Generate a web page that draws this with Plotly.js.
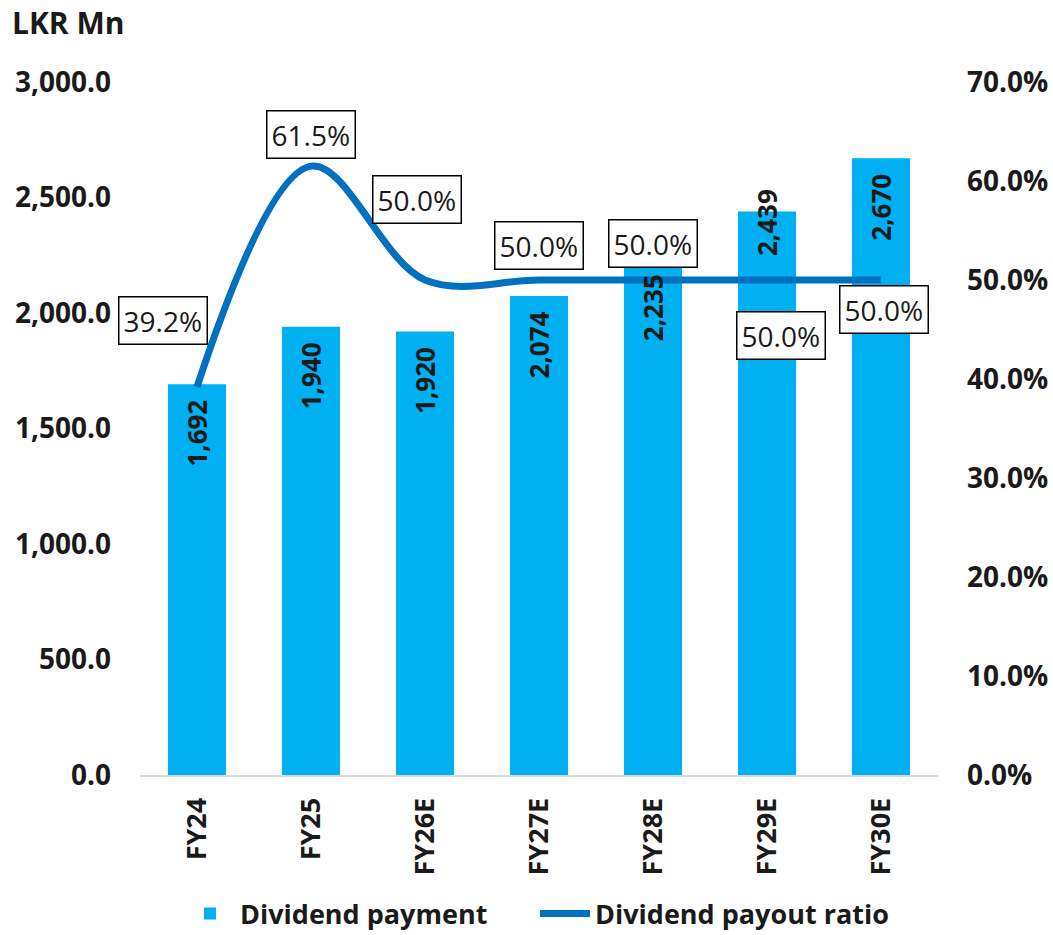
<!DOCTYPE html>
<html>
<head>
<meta charset="utf-8">
<script src="https://cdn.plot.ly/plotly-3.0.1.min.js"></script>
<style>html,body{margin:0;padding:0;background:#fff;}#chart{width:1053px;height:935px;}</style>
</head>
<body>
<div id="chart"></div>
<script>
const categories = ['FY24', 'FY25', 'FY26E', 'FY27E', 'FY28E', 'FY29E', 'FY30E'];
const dividendPayment = [1692, 1940, 1920, 2074, 2235, 2439, 2670];
const payoutRatio = [0.392, 0.615, 0.500, 0.500, 0.500, 0.500, 0.500];
const leftTicks = [0, 500, 1000, 1500, 2000, 2500, 3000];
const rightTicks = [0, 0.1, 0.2, 0.3, 0.4, 0.5, 0.6, 0.7];

// label placement offsets (px), kept apart from the data
const ratioLabelShift = [[-34, 66], [0, 32], [-8, 81], [0, 35], [0, 37], [14, -55], [3, -29]];
const paymentLabelShift = [-14, -14, -14, -14, -14, 24, -14];

const FONT = 'Open Sans, Noto Sans, DejaVu Sans, sans-serif';
const fmtNum = v => v.toLocaleString('en-US', {maximumFractionDigits: 0});
const fmtPct = v => (v * 100).toFixed(1) + '%';

const bars = {
  type: 'bar', name: 'Dividend payment', x: categories, y: dividendPayment,
  marker: {color: '#00B0F0'}, yaxis: 'y', hoverinfo: 'x+y'
};
const line = {
  type: 'scatter', mode: 'lines', name: 'Dividend payout ratio', x: categories, y: payoutRatio,
  yaxis: 'y2', line: {color: '#0070C0', width: 7, shape: 'spline', smoothing: 1}
};

const annotations = [];
categories.forEach((c, i) => {
  annotations.push({
    x: c, y: dividendPayment[i], xref: 'x', yref: 'y', text: fmtNum(dividendPayment[i]),
    textangle: -90, showarrow: false, yanchor: 'top', xanchor: 'center', yshift: paymentLabelShift[i],
    font: {family: FONT, size: 26, color: '#1a1a1a', weight: 'bold'}
  });
  annotations.push({
    x: c, y: payoutRatio[i], xref: 'x', yref: 'y2', text: fmtPct(payoutRatio[i]),
    showarrow: false, xanchor: 'center', yanchor: 'middle',
    xshift: ratioLabelShift[i][0], yshift: ratioLabelShift[i][1],
    bgcolor: '#ffffff', bordercolor: '#000000', borderwidth: 1.5, borderpad: 4,
    font: {family: FONT, size: 28, color: '#1a1a1a'}
  });
});

const layout = {
  width: 1053, height: 935,
  margin: {l: 140, r: 115, t: 82, b: 160, autoexpand: false},
  paper_bgcolor: '#ffffff', plot_bgcolor: '#ffffff',
  font: {family: FONT, color: '#1a1a1a'},
  title: {text: 'LKR Mn', x: 12 / 1053, xref: 'container', xanchor: 'left', y: 1 - 23 / 935, yref: 'container', yanchor: 'middle',
          font: {family: FONT, size: 30, color: '#1a1a1a', weight: 'bold'}},
  bargap: 0.49,
  showlegend: true,
  legend: {orientation: 'h', x: 535 / 1053, xref: 'container', xanchor: 'center', y: 1 - 914 / 935, yref: 'container', yanchor: 'middle',
           font: {family: FONT, size: 27, color: '#1a1a1a', weight: 'bold'}, itemwidth: 50,
           entrywidth: 290, entrywidthmode: 'pixels', traceorder: 'normal'},
  xaxis: {
    type: 'category', range: [-0.5, 6.5], tickangle: -90, showline: true, linecolor: '#D9D9D9', linewidth: 2,
    ticks: '', showgrid: false, zeroline: false, ticklabelstandoff: 10, automargin: false,
    tickfont: {family: FONT, size: 27, color: '#1a1a1a', weight: 'bold'}
  },
  yaxis: {
    range: [0, 3000], tickvals: leftTicks, tickformat: ',.1f', showgrid: false, zeroline: false,
    showline: false, ticks: '', ticklabelstandoff: 28, automargin: false,
    tickfont: {family: FONT, size: 28, color: '#1a1a1a', weight: 'bold'}
  },
  yaxis2: {
    range: [0, 0.7], tickvals: rightTicks, tickformat: '.1%', overlaying: 'y', side: 'right',
    showgrid: false, zeroline: false, showline: false, ticks: '', ticklabelstandoff: 28, automargin: false,
    tickfont: {family: FONT, size: 28, color: '#1a1a1a', weight: 'bold'}
  },
  annotations: annotations
};

Plotly.newPlot('chart', [bars, line], layout, {displayModeBar: false, staticPlot: true});
</script>
</body>
</html>
